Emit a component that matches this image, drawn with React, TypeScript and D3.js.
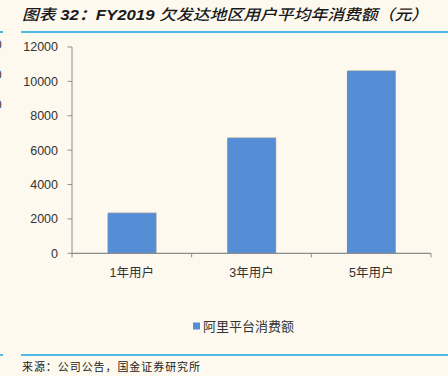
import React from "react";
import * as d3 from "d3";

const categories = ["1年用户", "3年用户", "5年用户"];
const values = [2330, 6700, 10600];
const yTicks = [0, 2000, 4000, 6000, 8000, 10000, 12000];
const seriesName = "阿里平台消费额";
const titleParts = ["图表 ", "32：FY2019 ", "欠发达地区用户平均年消费额（元）"];
const source = "来源：公司公告，国金证券研究所";

const W = 448;
const H = 376;
const BG = "#FDF9EF";
const BAR = "#558ED5";
const AXIS = "#8C8C8C";
const LINE = "#1AA2E0";

export default function App() {
  const x = d3
    .scaleBand<string>()
    .domain(categories)
    .range([72, 431])
    .paddingInner(0.595)
    .paddingOuter(0.2975);
  const y = d3.scaleLinear().domain([0, 12000]).range([253.3, 47]);
  const step = x.step();
  const x0 = 72;
  const sans = "'Liberation Sans', 'DejaVu Sans', Arial, 'Noto Sans CJK SC', sans-serif";
  const cjk = "'Noto Sans CJK SC', sans-serif";

  return (
    <svg
      width={W}
      height={H}
      viewBox={`0 0 ${W} ${H}`}
      style={{ position: "fixed", left: 0, top: 0, background: BG }}
    >
      <rect x={0} y={0} width={W} height={H} fill={BG} />
      {/* header */}
      <text
        x={22}
        y={20}
        fontFamily={`'Liberation Sans', Arial, 'Noto Sans CJK SC', sans-serif`}
        fontSize={15}
        fontStyle="italic"
        fill="#1a1a1a"
        textLength={406}
        lengthAdjust="spacingAndGlyphs"
      >
        <tspan fontWeight={500}>{titleParts[0]}</tspan>
        <tspan fontWeight="bold">{titleParts[1]}</tspan>
        <tspan fontWeight={500}>{titleParts[2]}</tspan>
      </text>
      <line x1={21} x2={448} y1={32} y2={32} stroke={LINE} strokeWidth={1.6} />
      <line x1={0} x2={3} y1={32} y2={32} stroke={LINE} strokeWidth={1.6} />
      {/* clipped remnants on left edge (cut off in the reference too) */}
      {[49, 79, 109].map((yy, i) => (
        <text key={i} x={-5} y={yy} fontFamily={sans} fontSize={12} fill="#333">
          0
        </text>
      ))}

      {/* bars with slight shadow */}
      {categories.map((c, i) => (
        <g key={c}>
          <rect
            x={(x(c) as number) + 0.5}
            y={y(values[i]) - 0.8}
            width={x.bandwidth()}
            height={y(0) - y(values[i]) + 0.8}
            fill="#B0B0B0"
          />
          <rect
            x={x(c) as number}
            y={y(values[i])}
            width={x.bandwidth()}
            height={y(0) - y(values[i])}
            fill={BAR}
          />
        </g>
      ))}

      {/* y axis */}
      <line x1={72} x2={72} y1={y(12000)} y2={y(0)} stroke={AXIS} strokeWidth={1} />
      {yTicks.map((t) => (
        <g key={t}>
          <line x1={67.5} x2={72} y1={y(t)} y2={y(t)} stroke={AXIS} strokeWidth={1} />
          <text
            x={58}
            y={y(t)}
            dy="0.35em"
            textAnchor="end"
            fontFamily={sans}
            fontSize={12.5}
            fill="#333"
          >
            {t}
          </text>
        </g>
      ))}

      {/* x axis */}
      <line x1={72} x2={431} y1={y(0)} y2={y(0)} stroke={AXIS} strokeWidth={1.2} />
      {d3.range(categories.length + 1).map((i) => (
        <line
          key={i}
          x1={x0 + i * step}
          x2={x0 + i * step}
          y1={y(0)}
          y2={y(0) + 4}
          stroke={AXIS}
          strokeWidth={1}
        />
      ))}
      {categories.map((c) => (
        <text
          key={c}
          x={(x(c) as number) + x.bandwidth() / 2}
          y={277}
          textAnchor="middle"
          fontFamily={sans}
          fontSize={12.5}
          fill="#333"
        >
          {c}
        </text>
      ))}

      {/* legend */}
      <rect x={193} y={322.5} width={7} height={7} fill={BAR} />
      <text x={203} y={331} fontFamily={cjk} fontSize={13} fill="#333">
        {seriesName}
      </text>

      {/* footer */}
      <line x1={21} x2={448} y1={355} y2={355} stroke={LINE} strokeWidth={1.4} />
      <line x1={0} x2={3} y1={355} y2={355} stroke={LINE} strokeWidth={1.4} />
      <text
        x={22}
        y={371}
        fontFamily={cjk}
        fontSize={11}
        fill="#222"
        textLength={178}
        lengthAdjust="spacing"
      >
        {source}
      </text>
    </svg>
  );
}
